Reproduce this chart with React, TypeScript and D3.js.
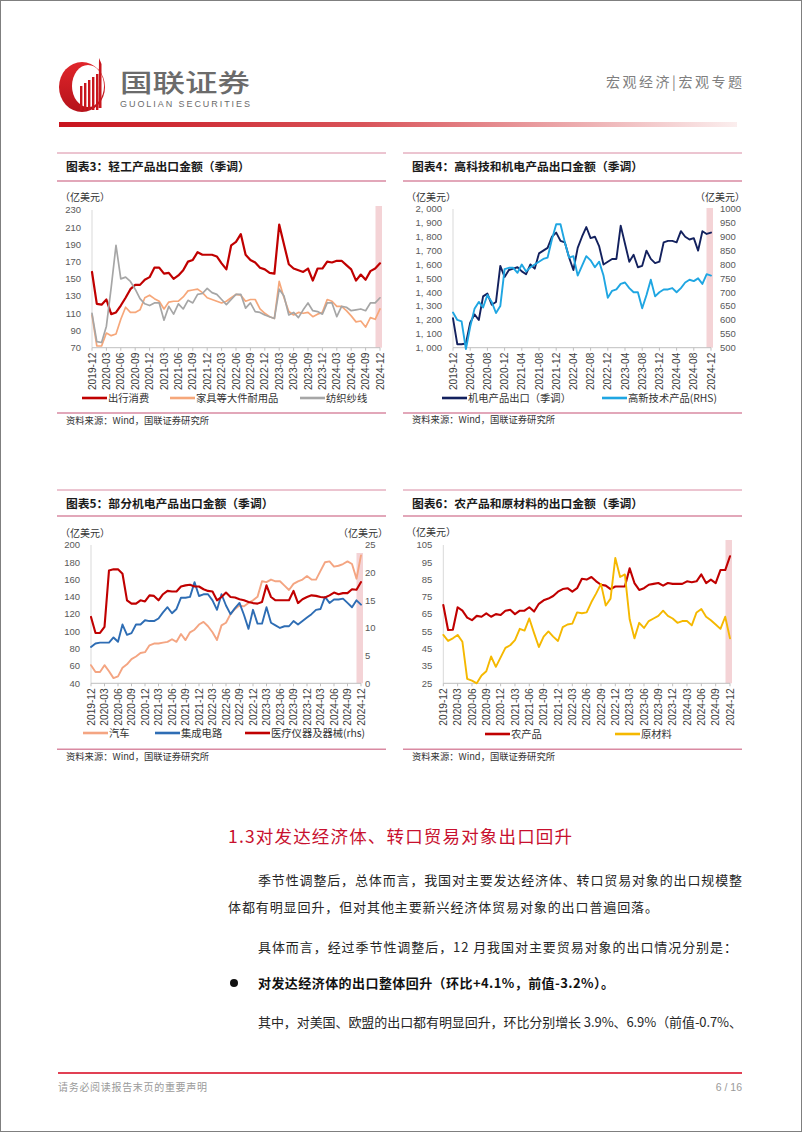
import React from 'react';
import * as d3 from 'd3';

// ---------- categories ----------
const months: string[] = (() => {
  const out: string[] = [];
  let y = 2019, m = 12;
  for (let i = 0; i < 61; i++) {
    out.push(`${y}-${String(m).padStart(2, '0')}`);
    m++;
    if (m > 12) { m = 1; y++; }
  }
  return out;
})();

// ---------- chart 3 data ----------
const travel = [158,121,120,126,109,111,119,128,138,143,143,149,152,163,163,156,157,150,154,160,170,172,181,178,178,178,176,168,161,189,193,202,178,172,169,163,161,157,156,213,190,167,162,160,158,162,148,162,162,170,169,171,171,166,161,148,155,149,159,162,168];
const furniture = [108,72,72,87,84,86,103,117,111,111,114,128,131,127,124,115,123,124,124,129,136,137,138,134,128,126,124,122,124,128,132,131,124,126,126,115,110,106,104,147,128,112,108,111,110,111,106,109,111,126,124,118,118,113,107,100,101,94,105,103,115];
const textile = [110,77,76,95,140,189,150,152,147,138,127,121,119,122,122,102,118,109,121,115,125,122,132,133,139,134,132,126,120,126,132,132,116,122,112,111,108,106,104,138,130,108,111,105,114,122,113,112,109,122,122,106,118,117,113,114,115,113,122,122,128];

// ---------- chart 4 data ----------
const electro = [1212,1025,1025,1030,1180,1240,1200,1370,1390,1310,1330,1590,1510,1560,1570,1580,1550,1530,1600,1570,1680,1700,1720,1800,1830,1770,1760,1650,1560,1720,1800,1870,1790,1800,1730,1600,1620,1640,1640,1880,1750,1620,1670,1580,1590,1700,1640,1610,1620,1760,1770,1770,1760,1840,1800,1780,1790,1700,1840,1820,1830];
const hitech = [627,600,595,495,575,640,665,645,690,665,625,650,783,788,788,770,800,775,790,800,810,820,825,890,945,945,880,825,830,760,795,830,815,790,810,760,680,705,710,730,735,715,700,700,642,690,745,685,700,710,710,715,700,715,735,745,740,750,730,765,760];

// ---------- chart 5 data ----------
const autos = [61,53,53,61,54,46,48,58,62,68,71,75,76,84,86,86,87,88,91,88,97,90,99,102,108,111,106,99,90,107,110,120,126,130,129,133,136,140,158,157,160,158,158,153,148,155,158,160,164,160,160,170,180,181,175,176,178,181,178,161,188];
const chips = [82,86,87,87,87,93,88,108,96,98,108,108,113,112,112,115,122,128,121,126,139,139,140,157,141,143,143,136,125,143,130,120,127,133,119,103,125,109,109,128,110,107,104,106,106,112,108,112,116,120,125,126,140,133,137,137,138,133,128,136,131];
const medical = [12.0,9.1,9.1,10.2,20.4,20.6,20.6,19.8,15.0,14.4,14.4,15.0,14.8,15.9,15.8,15.0,16.1,16.7,16.6,16.6,17.5,17.7,17.8,17.5,17.5,17.0,16.7,16.6,15.0,15.6,16.4,15.6,15.5,15.2,15.0,14.7,14.5,14.4,14.7,17.7,15.6,15.0,15.0,15.0,15.0,16.7,14.5,15.2,15.6,15.9,15.8,15.6,15.5,15.9,16.4,16.1,16.3,16.3,17.0,16.9,18.3];

// ---------- chart 6 data ----------
const agri = [70.3,55.8,56,69,67,63,61.5,64,63.5,65.5,63.5,65,64.5,67,67.5,65,67,67,69,66.5,71,73,74,75.5,78,79.5,80,78,80,85.5,85,86.5,84,82,81.5,79.5,81,81,81,91.5,83,79,80,82,82.5,83,81.5,83,82.5,82.5,82.5,84,83.5,84,88,83,85,83,90.5,90.5,98.5];
const rawMat = [53,49.5,51,53,49,27.5,26.5,25,29.5,32,40.5,34.5,40,45.5,47,50,56.5,55.5,62.5,54,46,52,55,52,49.5,57.5,59,59.5,66,65.5,66,72,77,82.5,70,74,97.5,86.5,88,62,51,60,57,61,62.5,64,67,64,62.5,60,61,61,58.5,66,68,63.5,61.5,59,56.5,63.5,51];

const FONT_CJK = '"Noto Sans CJK SC", "Noto Sans", sans-serif';
const FONT_NUM = '"Liberation Sans", Arial, sans-serif';
const LINE_PINK = '#d98aa2';

type Series = { name: string; values: number[]; color: string; axis: 'left' | 'right'; width: number; legendLineX: number };
type Cfg = {
  title: string;
  px0: number; px1: number;
  topLine: number; titleY: number; titleLine: number; unitY: number;
  x0: number; x1: number; yTop: number; yBot: number;
  leftDomain: [number, number]; leftStep: number; leftComma?: boolean;
  rightDomain?: [number, number]; rightStep?: number; rightLabelX?: number; rightUnitX?: number;
  tickStep: number;
  series: Series[];
  legendY: number; bottomLine: number; sourceY: number;
  bandTop: number;
};

function Chart({ c }: { c: Cfg }) {
  const x = d3.scaleLinear().domain([0, months.length - 1]).range([c.x0, c.x1]);
  const yl = d3.scaleLinear().domain(c.leftDomain).range([c.yBot, c.yTop]);
  const yr = c.rightDomain ? d3.scaleLinear().domain(c.rightDomain).range([c.yBot, c.yTop]) : null;
  const leftTicks = d3.range(c.leftDomain[0], c.leftDomain[1] + 0.001, c.leftStep);
  const rightTicks = c.rightDomain && c.rightStep ? d3.range(c.rightDomain[0], c.rightDomain[1] + 0.001, c.rightStep) : [];
  const fmtL = (v: number) => (c.leftComma ? d3.format(',')(v).replace(',', ', ') : String(v));
  const last = months.length - 1;
  const labelIdx = months.map((_, i) => i).filter((i) => i % c.tickStep === 0);
  const tx = c.px0 + 9;
  return (
    <g>
      <line x1={c.px0} x2={c.px1} y1={c.topLine} y2={c.topLine} stroke={LINE_PINK} strokeWidth={1} />
      <text x={tx} y={c.titleY} dy="0.36em" fontFamily={FONT_CJK} fontWeight={700} fontSize={11.8} fill="#1a1a1a">{c.title}</text>
      <line x1={c.px0} x2={c.px1} y1={c.titleLine} y2={c.titleLine} stroke={LINE_PINK} strokeWidth={1.5} />
      <text x={tx - 6} y={c.unitY} dy="0.36em" fontFamily={FONT_CJK} fontSize={10} fill="#333">（亿美元）</text>
      {c.rightUnitX !== undefined && (
        <text x={c.rightUnitX} y={c.unitY} dy="0.36em" textAnchor="end" fontFamily={FONT_CJK} fontSize={10} fill="#333">（亿美元）</text>
      )}
      {/* shaded band on last month */}
      <rect x={x(last) - 4.5} y={c.bandTop} width={6.5} height={c.yBot - c.bandTop} fill="#f4d3d6" />
      {/* left axis */}
      <line x1={c.x0} x2={c.x0} y1={c.yTop} y2={c.yBot} stroke="#d9d9d9" strokeWidth={1} />
      {leftTicks.map((t) => (
        <text key={'l' + t} x={c.x0 - 11} y={yl(t)} dy="0.35em" textAnchor="end" fontFamily={FONT_NUM} fontSize={9.5} fill="#595959">{fmtL(t)}</text>
      ))}
      {yr && rightTicks.map((t) => (
        <text key={'r' + t} x={c.rightLabelX} y={yr(t)} dy="0.35em" textAnchor="start" fontFamily={FONT_NUM} fontSize={9.5} fill="#595959">{t}</text>
      ))}
      {/* x axis */}
      <line x1={c.x0} x2={c.x1} y1={c.yBot} y2={c.yBot} stroke="#bfbfbf" strokeWidth={1} />
      {labelIdx.map((i) => (
        <g key={'x' + i}>
          <line x1={x(i)} x2={x(i)} y1={c.yBot} y2={c.yBot + 3} stroke="#bfbfbf" />
          <text transform={`translate(${x(i)},${c.yBot + 5}) rotate(-90)`} dy="0.35em" textAnchor="end" fontFamily={FONT_NUM} fontSize={10.2} fill="#404040">{months[i]}</text>
        </g>
      ))}
      {/* lines */}
      {c.series.map((s) => {
        const ys = s.axis === 'right' && yr ? yr : yl;
        const gen = d3.line<number>().x((_, i) => x(i)).y((v) => ys(v));
        return <path key={s.name} d={gen(s.values) || ''} fill="none" stroke={s.color} strokeWidth={s.width} strokeLinejoin="round" strokeLinecap="round" />;
      })}
      {/* legend */}
      {c.series.map((s) => (
        <g key={'lg' + s.name}>
          <line x1={s.legendLineX} x2={s.legendLineX + 25} y1={c.legendY} y2={c.legendY} stroke={s.color} strokeWidth={2.6} />
          <text x={s.legendLineX + 26} y={c.legendY} dy="0.36em" fontFamily={FONT_CJK} fontSize={10.3} fill="#333">{s.name}</text>
        </g>
      ))}
      <line x1={c.px0} x2={c.px1} y1={c.bottomLine} y2={c.bottomLine} stroke={LINE_PINK} strokeWidth={1.6} />
      <text x={tx} y={c.sourceY} dy="0.36em" fontFamily={FONT_CJK} fontSize={9.3} fill="#333">资料来源：Wind，国联证券研究所</text>
    </g>
  );
}

const chart3: Cfg = {
  title: '图表3：轻工产品出口金额（季调）',
  px0: 57, px1: 386, topLine: 153, titleY: 167, titleLine: 181, unitY: 197,
  x0: 92, x1: 380, yTop: 210, yBot: 347.7,
  leftDomain: [70, 230], leftStep: 20, tickStep: 3,
  series: [
    { name: '出行消费', values: travel, color: '#c00000', axis: 'left', width: 2.2, legendLineX: 82 },
    { name: '家具等大件耐用品', values: furniture, color: '#f6a77a', axis: 'left', width: 1.7, legendLineX: 170 },
    { name: '纺织纱线', values: textile, color: '#a6a6a6', axis: 'left', width: 1.7, legendLineX: 300 },
  ],
  legendY: 398, bottomLine: 413, sourceY: 421, bandTop: 206,
};

const chart4: Cfg = {
  title: '图表4：高科技和机电产品出口金额（季调）',
  px0: 403, px1: 742, topLine: 153, titleY: 167, titleLine: 181, unitY: 197,
  x0: 453, x1: 711, yTop: 209, yBot: 347.7,
  leftDomain: [1000, 2000], leftStep: 100, leftComma: true,
  rightDomain: [500, 1000], rightStep: 50, rightLabelX: 720, rightUnitX: 745,
  tickStep: 4,
  series: [
    { name: '机电产品出口（季调）', values: electro, color: '#13215e', axis: 'left', width: 1.9, legendLineX: 442 },
    { name: '高新技术产品(RHS)', values: hitech, color: '#1fa6e2', axis: 'right', width: 1.9, legendLineX: 602 },
  ],
  legendY: 398, bottomLine: 413, sourceY: 420, bandTop: 208,
};

const chart5: Cfg = {
  title: '图表5：部分机电产品出口金额（季调）',
  px0: 57, px1: 386, topLine: 490, titleY: 504, titleLine: 516, unitY: 533,
  x0: 91, x1: 361, yTop: 545, yBot: 683.3,
  leftDomain: [40, 200], leftStep: 20,
  rightDomain: [0, 25], rightStep: 5, rightLabelX: 365, rightUnitX: 388,
  tickStep: 3,
  series: [
    { name: '汽车', values: autos, color: '#f4a582', axis: 'left', width: 1.9, legendLineX: 83 },
    { name: '集成电路', values: chips, color: '#2e6db4', axis: 'left', width: 1.9, legendLineX: 155 },
    { name: '医疗仪器及器械(rhs)', values: medical, color: '#c00000', axis: 'right', width: 2.1, legendLineX: 245 },
  ],
  legendY: 733, bottomLine: 749.3, sourceY: 757, bandTop: 553,
};

const chart6: Cfg = {
  title: '图表6：农产品和原材料的出口金额（季调）',
  px0: 403, px1: 742, topLine: 490, titleY: 504, titleLine: 516, unitY: 532,
  x0: 443.3, x1: 730, yTop: 545, yBot: 683.3,
  leftDomain: [25, 105], leftStep: 10,
  tickStep: 3,
  series: [
    { name: '农产品', values: agri, color: '#c00000', axis: 'left', width: 2.1, legendLineX: 485 },
    { name: '原材料', values: rawMat, color: '#f5b800', axis: 'left', width: 1.9, legendLineX: 615 },
  ],
  legendY: 734, bottomLine: 749.3, sourceY: 757, bandTop: 540,
};

function Header() {
  return (
    <g>
      <defs>
        <linearGradient id="hdrGrad" x1="0" x2="1" y1="0" y2="0">
          <stop offset="0" stopColor="#c8141e" />
          <stop offset="0.45" stopColor="#d9545a" />
          <stop offset="1" stopColor="#fbeeee" />
        </linearGradient>
        <linearGradient id="logoGrad" x1="0" x2="0" y1="0" y2="1">
          <stop offset="0" stopColor="#e0262b" />
          <stop offset="1" stopColor="#b5121a" />
        </linearGradient>
      </defs>
      {/* logo */}
      <ellipse cx={82} cy={87} rx={23} ry={25} fill="url(#logoGrad)" />
      <ellipse cx={88} cy={86} rx={16} ry={21} fill="#fff" />
      {[0, 1, 2, 3, 4].map((k) => (
        <rect key={k} x={80 + k * 4} y={74 + (4 - k) * 3} width={2.4} height={36 - (4 - k) * 3} fill="#c8161d" />
      ))}
      <polygon points="99,58 101.5,64 101.5,108 98.5,108" fill="#c8161d" />
      <text x={120} y={83} dy="0.36em" fontFamily={FONT_CJK} fontSize={25} fontWeight={500} fill="#6b6b6b" textLength={130} lengthAdjust="spacingAndGlyphs">国联证券</text>
      <text x={120} y={104} dy="0.36em" fontFamily={FONT_NUM} fontSize={9} fill="#6b6b6b" textLength={130} lengthAdjust="spacing">GUOLIAN SECURITIES</text>
      <text x={606} y={82} dy="0.36em" fontFamily={FONT_CJK} fontSize={14} fill="#7f7f7f" textLength={136} lengthAdjust="spacing">宏观经济|宏观专题</text>
      <rect x={59} y={122} width={678} height={5} fill="url(#hdrGrad)" />
    </g>
  );
}

function Body() {
  const t = { fontFamily: FONT_CJK, fontSize: 13, fill: '#262626' } as const;
  return (
    <g>
      <text x={228} y={837} dy="0.36em" fontFamily={FONT_CJK} fontSize={17.5} fill="#c8102e" textLength={344} lengthAdjust="spacing">1.3对发达经济体、转口贸易对象出口回升</text>
      <text x={258} y={880} dy="0.36em" {...t} textLength={484} lengthAdjust="spacing">季节性调整后，总体而言，我国对主要发达经济体、转口贸易对象的出口规模整</text>
      <text x={228} y={907} dy="0.36em" {...t} textLength={430} lengthAdjust="spacing">体都有明显回升，但对其他主要新兴经济体贸易对象的出口普遍回落。</text>
      <text x={258} y={947} dy="0.36em" {...t} textLength={479} lengthAdjust="spacing">具体而言，经过季节性调整后，12 月我国对主要贸易对象的出口情况分别是：</text>
      <circle cx={234} cy={983} r={4} fill="#111" />
      <text x={258} y={983} dy="0.36em" {...t} fontWeight={700} fill="#111" textLength={356} lengthAdjust="spacing">对发达经济体的出口整体回升（环比+4.1%，前值-3.2%）。</text>
      <text x={258} y={1022} dy="0.36em" {...t} textLength={484} lengthAdjust="spacing">其中，对美国、欧盟的出口都有明显回升，环比分别增长 3.9%、6.9%（前值-0.7%、</text>
    </g>
  );
}

function Footer() {
  return (
    <g>
      <line x1={58} x2={742} y1={1073} y2={1073} stroke="#d7001b" strokeWidth={1.5} />
      <text x={58} y={1087} dy="0.36em" fontFamily={FONT_CJK} fontSize={10} fill="#9a9a9a" textLength={149} lengthAdjust="spacing">请务必阅读报告末页的重要声明</text>
      <text x={742} y={1087} dy="0.36em" textAnchor="end" fontFamily={FONT_NUM} fontSize={10.5} fill="#9a9a9a">6 / 16</text>
    </g>
  );
}

export default function App() {
  return (
    <div>
      <style>{'html,body{margin:0;padding:0;background:#fff;}'}</style>
      <svg width={802} height={1133} style={{ display: 'block', position: 'absolute', left: 0, top: 0 }}>
        <rect x={0} y={0} width={802} height={1133} fill="#fff" />
        <Header />
        <Chart c={chart3} />
        <Chart c={chart4} />
        <Chart c={chart5} />
        <Chart c={chart6} />
        <Body />
        <Footer />
        <rect x={0.5} y={0.5} width={801} height={1131} fill="none" stroke="#7f7f7f" strokeWidth={1} />
      </svg>
    </div>
  );
}
